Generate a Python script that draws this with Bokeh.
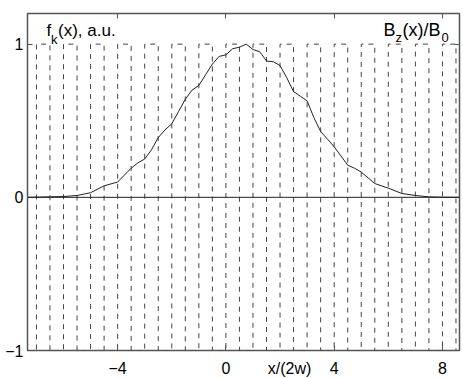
from bokeh.plotting import figure
from bokeh.models import LinearAxis, FixedTicker, Span, Label, Range1d
from bokeh.embed import file_html
from bokeh.resources import INLINE

# ---- data ----
x_curve = [-7.33, -6.5, -6.0, -5.5, -5.0, -4.5, -4.0, -3.5, -3.25, -3.0, -2.75, -2.5,
           -2.25, -2.0, -1.75, -1.5, -1.25, -1.0, -0.75, -0.5, -0.25, 0.0, 0.25, 0.5,
           0.75, 1.0, 1.25, 1.5, 1.75, 2.0, 2.25, 2.5, 2.75, 3.0, 3.25, 3.5, 3.75,
           4.0, 4.25, 4.5, 4.75, 5.0, 5.5, 6.0, 6.5, 7.0, 7.5, 8.0, 8.63]
f_curve = [0.0, 0.003, 0.005, 0.012, 0.03, 0.075, 0.10, 0.19, 0.225, 0.25, 0.31, 0.39,
           0.44, 0.48, 0.56, 0.64, 0.70, 0.73, 0.80, 0.87, 0.92, 0.93, 0.97, 0.98,
           1.0, 0.965, 0.95, 0.89, 0.885, 0.86, 0.78, 0.69, 0.66, 0.63, 0.52, 0.43, 0.38,
           0.33, 0.27, 0.21, 0.19, 0.165, 0.09, 0.06, 0.025, 0.012, 0.003, 0.001, 0.0]

# square-wave B_z/B_0: switching positions and the level on each segment
sq_edges = [-7.33, -7.0, -6.5, -6.0, -5.5, -5.0, -4.5, -4.0, -3.5, -3.0, -2.5, -2.0,
            -1.5, -1.0, -0.5, 0.0, 0.5, 1.0, 1.5, 2.0, 2.5, 3.0, 3.5, 4.0, 4.5,
            5.0, 5.5, 6.0, 6.5, 7.0, 7.5, 8.0, 8.5, 8.63]
sq_levels = [-1, 1, -1, 1, -1, 1, -1, 1, -1, 1, -1, 1, -1, 1, -1, 1, -1,
             1, -1, 1, -1, 1, -1, 1, -1, 1, -1, 1, -1, 1, -1, 1, -1]

x_ticks = [-4, 0, 4, 8]
y_ticks = [-1, 0, 1]
x_label_pos = 2.35          # where "x/(2w)" sits in the tick-label row
x_tick_labels = {-4: "\u22124", 0: "0", 4: "4", 8: "8", x_label_pos: "x/(2w)"}
y_tick_labels = {-1: "\u22121", 0: "0", 1: "1"}

X_MIN, X_MAX = -7.33, 8.63
Y_MIN, Y_MAX = -1.0, 1.2

# step polyline from the edges/levels
sq_x, sq_y = [], []
for i, lev in enumerate(sq_levels):
    sq_x += [sq_edges[i], sq_edges[i + 1]]
    sq_y += [lev, lev]

FONT = "Liberation Sans"
FRAME_COLOR = "#555555"

p = figure(frame_width=432, frame_height=337,
           x_range=Range1d(X_MIN, X_MAX), y_range=Range1d(Y_MIN, Y_MAX),
           output_backend="svg", toolbar_location=None,
           min_border_left=27, min_border_top=13, min_border_right=4, min_border_bottom=28)
p.grid.visible = False
p.outline_line_color = FRAME_COLOR
p.outline_line_width = 1.5
p.background_fill_color = "white"
p.border_fill_color = "white"

def style_axis(ax, labels=True, tick_in=5):
    ax.major_tick_in = tick_in
    ax.major_tick_out = 0
    ax.minor_tick_line_color = None
    ax.axis_line_color = None
    ax.major_tick_line_color = FRAME_COLOR
    ax.major_tick_line_width = 1
    if labels:
        ax.major_label_text_font = FONT
        ax.major_label_text_font_size = "16px"
        ax.major_label_text_color = "black"
    else:
        ax.major_label_text_font_size = "1px"
        ax.major_label_standoff = 0

# bottom axis: labels only (incl. the x/(2w) caption in the same row)
p.xaxis.ticker = FixedTicker(ticks=x_ticks + [x_label_pos])
p.xaxis.major_label_overrides = x_tick_labels
style_axis(p.xaxis[0], tick_in=0)
p.xaxis.major_tick_line_color = None
p.xaxis.major_label_standoff = 9

p.yaxis.ticker = FixedTicker(ticks=y_ticks)
p.yaxis.major_label_overrides = y_tick_labels
style_axis(p.yaxis[0])
p.yaxis.major_label_standoff = 4

# bottom tick marks, drawn on the frame edge
bot = LinearAxis(ticker=FixedTicker(ticks=x_ticks), fixed_location=Y_MIN,
                 major_label_overrides={t: "" for t in x_ticks})
style_axis(bot, labels=False)
p.add_layout(bot, "below")

top = LinearAxis(ticker=FixedTicker(ticks=x_ticks),
                 major_label_overrides={t: "" for t in x_ticks})
style_axis(top, labels=False)
p.add_layout(top, "above")
right = LinearAxis(ticker=FixedTicker(ticks=y_ticks),
                   major_label_overrides={t: "" for t in y_ticks})
style_axis(right, labels=False)
p.add_layout(right, "right")

# zero line
p.add_layout(Span(location=0, dimension="width", line_color="#222222", line_width=1))

# square wave (dashed)
p.line(sq_x, sq_y, line_color="#444444", line_width=1, line_dash="5 5")
# f_k(x) curve
p.line(x_curve, f_curve, line_color="#222222", line_width=1)

# helpers: reference-pixel -> data position for text placement
def dx(px):
    return X_MIN + (px - 27) / 432 * (X_MAX - X_MIN)

def dy(py):
    return Y_MAX - (py - 13) / 337 * (Y_MAX - Y_MIN)

def lab(px, py, text, size):
    p.add_layout(Label(x=dx(px), y=dy(py), text=text, text_font=FONT,
                       text_font_size=size, text_color="black",
                       text_baseline="alphabetic", text_align="left"))

lab(46, 30, "f", "17px")
lab(50.5, 39, "k", "13px")
lab(57.5, 30, "(x), a.u.", "17px")
lab(383, 29, "B", "18px")
lab(395, 37, "z", "13px")
lab(402, 29, "(x)/B", "18px")
lab(441, 37, "0", "13px")

open("out.html", "w").write(file_html(p, INLINE))
